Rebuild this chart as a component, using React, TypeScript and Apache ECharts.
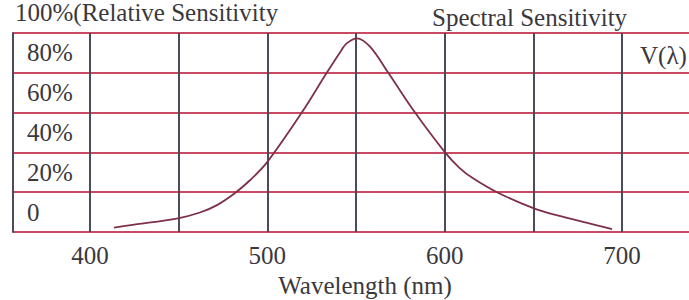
import React, { useEffect, useRef } from "react";
import * as echarts from "echarts";

const wavelengths = [413.5, 424, 449.6, 462, 471.6, 481.8, 490.2, 499.8, 519.4, 533.5, 541.9, 544.7, 550.5, 557.9, 568.2, 583.3, 600.2, 608.6, 616, 629.5, 650, 663, 694.4];
const sensitivity = [2.2, 3.6, 6.9, 9.8, 13.5, 19.6, 26, 35, 60, 80, 91.5, 94.8, 97.3, 93.1, 80, 60, 40, 32, 27, 20, 12, 8.5, 1.5];
const xLabelValues = [400, 500, 600, 700];
const seriesName = "V(λ)";
const yTitle = "100%(Relative Sensitivity";
const chartTitle = "Spectral Sensitivity";
const xTitle = "Wavelength (nm)";

const FONT = "'Liberation Serif', 'DejaVu Serif', serif";
const FS = 25;
const TEXT = "#3a383d";
const HLINE = "#c94a62";
const VLINE = "#4a4c5a";
const CURVE = "#7d3048";

export default function App() {
  const ref = useRef<HTMLDivElement>(null);
  useEffect(() => {
    document.body.style.margin = "0";
    const chart = echarts.init(ref.current!, null, { renderer: "svg" });
    const data = wavelengths.map((w, i) => [w, sensitivity[i]]);
    chart.setOption({
      animation: false,
      backgroundColor: "#ffffff",
      title: {
        text: chartTitle,
        left: 432,
        top: 5,
        padding: 0,
        textStyle: { fontFamily: FONT, fontSize: FS, fontWeight: "normal", color: TEXT },
      },
      legend: {
        data: [{ name: seriesName, icon: "none" }],
        left: 635,
        top: 43,
        padding: 0,
        itemWidth: 0,
        itemGap: 0,
        selectedMode: false,
        textStyle: { fontFamily: FONT, fontSize: FS, color: TEXT },
      },
      grid: [
        { left: 90, right: 0, top: 33, height: 199, outerBoundsMode: "none", containLabel: false },
        { left: 13, width: 77, top: 33, height: 199, outerBoundsMode: "none", containLabel: false },
      ],
      xAxis: [
        {
          type: "value",
          gridIndex: 0,
          min: 400,
          max: 400 + 599 / 1.7733,
          interval: 50,
          axisLine: { show: false },
          axisTick: { show: false },
          axisLabel: {
            margin: 11,
            fontFamily: FONT,
            fontSize: FS,
            color: TEXT,
            formatter: (v: number) => (xLabelValues.includes(Math.round(v)) ? String(Math.round(v)) : ""),
          },
          splitLine: { show: true, showMaxLine: false, lineStyle: { color: VLINE, width: 2 } },
          name: xTitle,
          nameLocation: "middle",
          nameGap: 40,
          nameTextStyle: { fontFamily: FONT, fontSize: FS, color: TEXT, padding: [0, 49, 0, 0] },
        },
        {
          type: "value",
          gridIndex: 1,
          min: 0,
          max: 1,
          show: true,
          axisLine: { show: false },
          axisTick: { show: false },
          axisLabel: { show: false },
          splitLine: { show: false },
        },
      ],
      yAxis: [
        {
          type: "value",
          gridIndex: 0,
          min: 0,
          max: 100,
          interval: 20,
          axisLine: { show: false },
          axisTick: { show: false },
          axisLabel: { show: false },
          splitLine: { show: true, lineStyle: { color: HLINE, width: 2 } },
        },
        {
          type: "value",
          gridIndex: 1,
          min: 0,
          max: 100,
          interval: 20,
          axisLine: { show: true, lineStyle: { color: VLINE, width: 2 } },
          axisTick: { show: false },
          axisLabel: {
            inside: true,
            margin: 14,
            align: "left",
            verticalAlign: "bottom",
            lineHeight: 24,
            padding: [0, 0, 8, 0],
            showMinLabel: true,
            showMaxLabel: true,
            hideOverlap: false,
            fontFamily: FONT,
            fontSize: FS,
            color: TEXT,
            formatter: (v: number) => (v === 100 ? "" : v === 0 ? "0" : `${v}%`),
          },
          splitLine: { show: true, lineStyle: { color: HLINE, width: 2 } },
          name: yTitle,
          nameLocation: "end",
          nameGap: 15,
          nameTextStyle: {
            fontFamily: FONT,
            fontSize: FS,
            color: TEXT,
            align: "left",
            verticalAlign: "middle",
            padding: [0, 0, 0, 2],
          },
        },
      ],
      series: [
        {
          name: seriesName,
          type: "line",
          xAxisIndex: 0,
          yAxisIndex: 0,
          data,
          smooth: 0.35,
          showSymbol: false,
          lineStyle: { color: CURVE, width: 1.8 },
          itemStyle: { color: CURVE },
        },
      ],
    });
    return () => chart.dispose();
  }, []);
  return <div ref={ref} style={{ width: 689, height: 300 }} />;
}
